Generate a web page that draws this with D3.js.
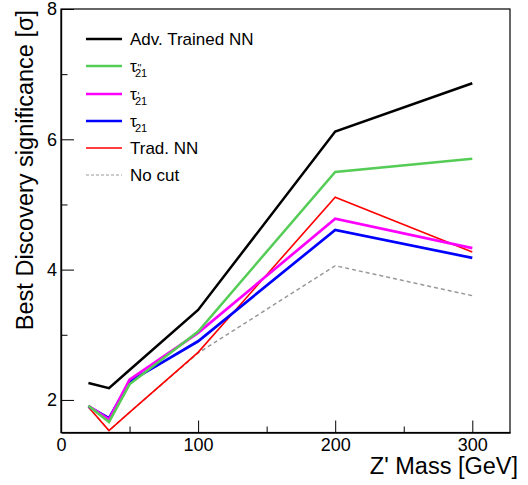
<!DOCTYPE html>
<html>
<head>
<meta charset="utf-8">
<script src="https://cdn.jsdelivr.net/npm/d3@7"></script>
<style>
  html, body { margin: 0; padding: 0; background: #fff; }
  svg { display: block; font-family: "Liberation Sans", Arial, Helvetica, sans-serif; }
</style>
</head>
<body>
<svg id="chart" width="528" height="485"></svg>
<script>
// ---- Data ----
const masses   = [20, 35, 50, 100, 200, 300];
const advNN    = [2.26, 2.18, 2.46, 3.38, 6.12, 6.86];
const tau21pp  = [1.91, 1.66, 2.24, 3.05, 5.50, 5.70];
const tau21p   = [1.91, 1.70, 2.31, 3.03, 4.78, 4.33];
const tau21    = [1.90, 1.72, 2.28, 2.90, 4.61, 4.18];
const tradNN   = [1.89, 1.53, 1.81, 2.73, 5.11, 4.27];
const noCut    = [1.89, 1.53, 1.81, 2.72, 4.06, 3.60];

const xMajorTicks = [0, 100, 200, 300];
const xMinorTicks = [50, 150, 250];
const yMajorTicks = [2, 4, 6, 8];
const yMinorTicks = [3, 5, 7];

const xTitle = "Z' Mass [GeV]";
const yTitle = "Best Discovery significance [σ]";

// ---- Layout ----
const svg = d3.select("#chart");
const pL = 61, pR = 510, pT = 9, pB = 432.5;

const x = d3.scaleLinear().domain([0, 327.5]).range([pL, pR]);
const y = d3.scaleLinear().domain([1.5, 8]).range([pB, pT]);

// frame
svg.append("rect")
  .attr("x", pL).attr("y", pT)
  .attr("width", pR - pL).attr("height", pB - pT)
  .attr("fill", "none").attr("stroke", "#000").attr("stroke-width", 1.2);

// ---- Series ----
const series = [
  { name: "nocut", vals: noCut,   color: "#999999", width: 1.5, dash: "4,3" },
  { name: "trad",  vals: tradNN,  color: "#ff0000", width: 1.6 },
  { name: "tau",   vals: tau21,   color: "#0000ff", width: 2.7 },
  { name: "taup",  vals: tau21p,  color: "#ff00ff", width: 2.7 },
  { name: "taupp", vals: tau21pp, color: "#55cc55", width: 2.5 },
  { name: "adv",   vals: advNN,   color: "#000000", width: 2.5 }
];

const line = d3.line().x(d => x(d[0])).y(d => y(d[1]));
series.forEach(s => {
  svg.append("path")
    .datum(masses.map((m, i) => [m, s.vals[i]]))
    .attr("d", line)
    .attr("fill", "none")
    .attr("stroke", s.color)
    .attr("stroke-width", s.width)
    .attr("stroke-dasharray", s.dash || null)
    .attr("stroke-linejoin", "miter");
});

// ---- Axes (ticks inward) ----
const xAxisMajor = d3.axisBottom(x).tickValues(xMajorTicks).tickSizeInner(-12).tickSizeOuter(0).tickPadding(6).tickFormat(d3.format("d"));
const xAxisMinor = d3.axisBottom(x).tickValues(xMinorTicks).tickSizeInner(-6).tickSizeOuter(0).tickFormat("");
const yAxisMajor = d3.axisLeft(y).tickValues(yMajorTicks).tickSizeInner(-13).tickSizeOuter(0).tickPadding(4).tickFormat(d3.format("d"));
const yAxisMinor = d3.axisLeft(y).tickValues(yMinorTicks).tickSizeInner(-6.5).tickSizeOuter(0).tickFormat("");

function styleAxis(g) {
  g.select(".domain").attr("stroke", "#000").attr("stroke-width", 1.2);
  g.selectAll(".tick line").attr("stroke", "#000").attr("stroke-width", 1);
  g.selectAll(".tick text").attr("fill", "#000")
    .style("font-family", "'Liberation Sans', Arial, sans-serif")
    .style("font-size", "18px");
}

svg.append("g").attr("transform", `translate(0,${pB})`).call(xAxisMajor).call(styleAxis);
svg.append("g").attr("transform", `translate(0,${pB})`).call(xAxisMinor).call(styleAxis);
svg.append("g").attr("transform", `translate(${pL},0)`).call(yAxisMajor).call(styleAxis);
svg.append("g").attr("transform", `translate(${pL},0)`).call(yAxisMinor).call(styleAxis);

// ---- Axis titles ----
svg.append("text")
  .attr("x", 518).attr("y", 474)
  .attr("text-anchor", "end")
  .style("font-size", "23.5px")
  .text(xTitle);

svg.append("text")
  .attr("transform", "translate(33,10) rotate(-90)")
  .attr("text-anchor", "end")
  .style("font-size", "23.5px")
  .text(yTitle);

// ---- Legend ----
const legend = [
  { label: "Adv. Trained NN", color: "#000000", width: 2.5, y: 39 },
  { tau: "''", color: "#55cc55", width: 2.5, y: 66 },
  { tau: "'",  color: "#ff00ff", width: 2.5, y: 94 },
  { tau: "",   color: "#0000ff", width: 2.5, y: 121 },
  { label: "Trad. NN", color: "#ff0000", width: 1.5, y: 148 },
  { label: "No cut", color: "#999999", width: 1.2, y: 175, dash: "3,2" }
];
const lx0 = 86, lx1 = 122, tx = 130;
legend.forEach(e => {
  svg.append("line")
    .attr("x1", lx0).attr("x2", lx1).attr("y1", e.y).attr("y2", e.y)
    .attr("stroke", e.color).attr("stroke-width", e.width)
    .attr("stroke-dasharray", e.dash || null);
  if (e.label) {
    svg.append("text").attr("x", tx).attr("y", e.y + 6)
      .style("font-size", "17px").text(e.label);
  } else {
    // τ with superscript primes stacked over subscript "21", as one text
    const t = svg.append("text").attr("x", tx).attr("y", e.y + 5.5)
      .style("font-size", "17px");
    t.append("tspan").text("τ");
    if (e.tau) {
      t.append("tspan").attr("x", tx + 7.5).attr("y", e.y + 5.5)
        .style("font-size", "10px").text(e.tau);
    }
    t.append("tspan").attr("x", tx + 5).attr("y", e.y + 10.7)
      .style("font-size", "11px").text("21");
  }
});
</script>
</body>
</html>
